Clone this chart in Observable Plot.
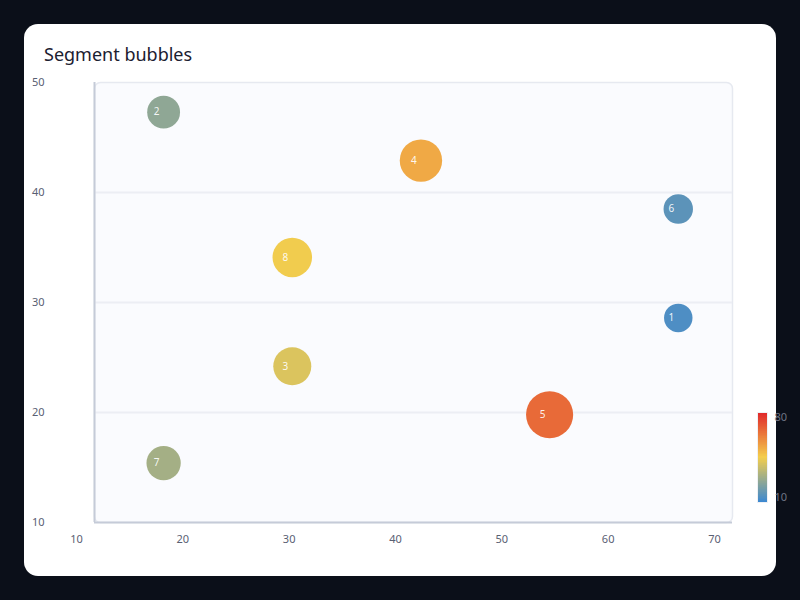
<!DOCTYPE html>
<html>
<head>
<meta charset="utf-8">
<script src="https://cdn.jsdelivr.net/npm/d3@7"></script>
<script src="https://cdn.jsdelivr.net/npm/@observablehq/plot@0.6"></script>
<style>
  html, body { margin: 0; padding: 0; }
  body { width: 800px; height: 600px; background: #0b0f19; position: relative; overflow: hidden; font-family: "Noto Sans", sans-serif; }
  #card { position: absolute; left: 24px; top: 24px; width: 752px; height: 552px; background: #ffffff; border-radius: 14px; }
  #title { position: absolute; left: 44px; top: 45px; font-size: 18px; line-height: 18px; color: #1b2030; font-family: "Noto Sans", sans-serif; }
  #chart { position: absolute; left: 0; top: 0; }
  #legend { position: absolute; left: 740px; top: 400px; }
</style>
</head>
<body>
<div id="card"></div>
<div id="title">Segment bubbles</div>
<div id="chart"></div>
<div id="legend"></div>
<script>
// Data
const ids    = ["1", "2", "3", "4", "5", "6", "7", "8"];
const xs     = [64.9, 16.5, 28.6, 40.7, 52.8, 64.9, 16.5, 28.6];
const ys     = [28.6, 47.3, 24.2, 42.9, 19.8, 38.5, 15.4, 34.1];
const values = [13.5, 25.8, 40.3, 52.6, 65.8, 16.2, 29.9, 44.5];
const xTicks = [10, 20, 30, 40, 50, 60, 70];
const yTicks = [10, 20, 30, 40, 50];
const gridY  = [20, 30, 40];
const colorStops = ["#3b87d1", "#f4cd4c", "#e0262a"];
const colorDomain = [10, 80];

const rows = ids.map((id, i) => ({id, x: xs[i], y: ys[i], v: values[i]}));

const colorScale = {type: "linear", domain: colorDomain, interpolate: d3.piecewise(d3.interpolateRgb, colorStops)};

const chart = Plot.plot({
  width: 800,
  height: 600,
  marginLeft: 94,
  marginRight: 68,
  marginTop: 82,
  marginBottom: 78,
  style: {background: "transparent", fontFamily: "Noto Sans, sans-serif", fontSize: "11px", color: "#596073", overflow: "visible"},
  x: {domain: [10, 70]},
  y: {domain: [10, 50]},
  color: colorScale,
  r: {type: "linear", domain: colorDomain, range: [13.6, 26.1]},
  marks: [
    Plot.frame({fill: "#fafbfe", stroke: "#e6e9f0", strokeWidth: 1.5, rx: 6}),
    Plot.ruleY(gridY, {stroke: "#eceef4", strokeWidth: 2}),
    Plot.ruleX([10], {stroke: "#c5cbd8", strokeWidth: 2}),
    Plot.ruleY([10], {stroke: "#c5cbd8", strokeWidth: 2}),
    Plot.axisX({ticks: xTicks, tickSize: 0, tickPadding: 13, dx: -18, label: null, fill: "#596073"}),
    Plot.axisY({ticks: yTicks, tickSize: 0, tickPadding: 50, label: null, fill: "#596073"}),
    Plot.dot(rows, {x: "x", y: "y", r: "v", fill: "v", fillOpacity: 1}),
    Plot.text(rows, {x: "x", y: "y", text: "id", dx: -7, fill: "white", fillOpacity: 0.92, fontSize: 10})
  ]
});
document.getElementById("chart").append(chart);

// Vertical colour ramp legend
const ramp = d3.range(colorDomain[0], colorDomain[1], 0.5);
const legend = Plot.plot({
  width: 60,
  height: 110,
  marginLeft: 17,
  marginRight: 33,
  marginTop: 12,
  marginBottom: 8,
  style: {background: "transparent", fontFamily: "Noto Sans, sans-serif", fontSize: "11px", overflow: "visible"},
  x: {domain: [0, 1], axis: null},
  y: {domain: colorDomain, axis: null},
  color: colorScale,
  marks: [
    Plot.rect(ramp, {x1: 0, x2: 1, y1: d => d, y2: d => Math.min(d + 1, colorDomain[1]), fill: d => d + 0.25, shapeRendering: "crispEdges"}),
    Plot.frame({stroke: "#eef0f4", strokeWidth: 1}),
    Plot.text([colorDomain[1]], {x: 1, y: d => d, text: d => String(d), dx: 7, dy: 5, textAnchor: "start", fill: "#6f7585"}),
    Plot.text([colorDomain[0]], {x: 1, y: d => d, text: d => String(d), dx: 7, dy: -5, textAnchor: "start", fill: "#6f7585"})
  ]
});
document.getElementById("legend").append(legend);
</script>
</body>
</html>
